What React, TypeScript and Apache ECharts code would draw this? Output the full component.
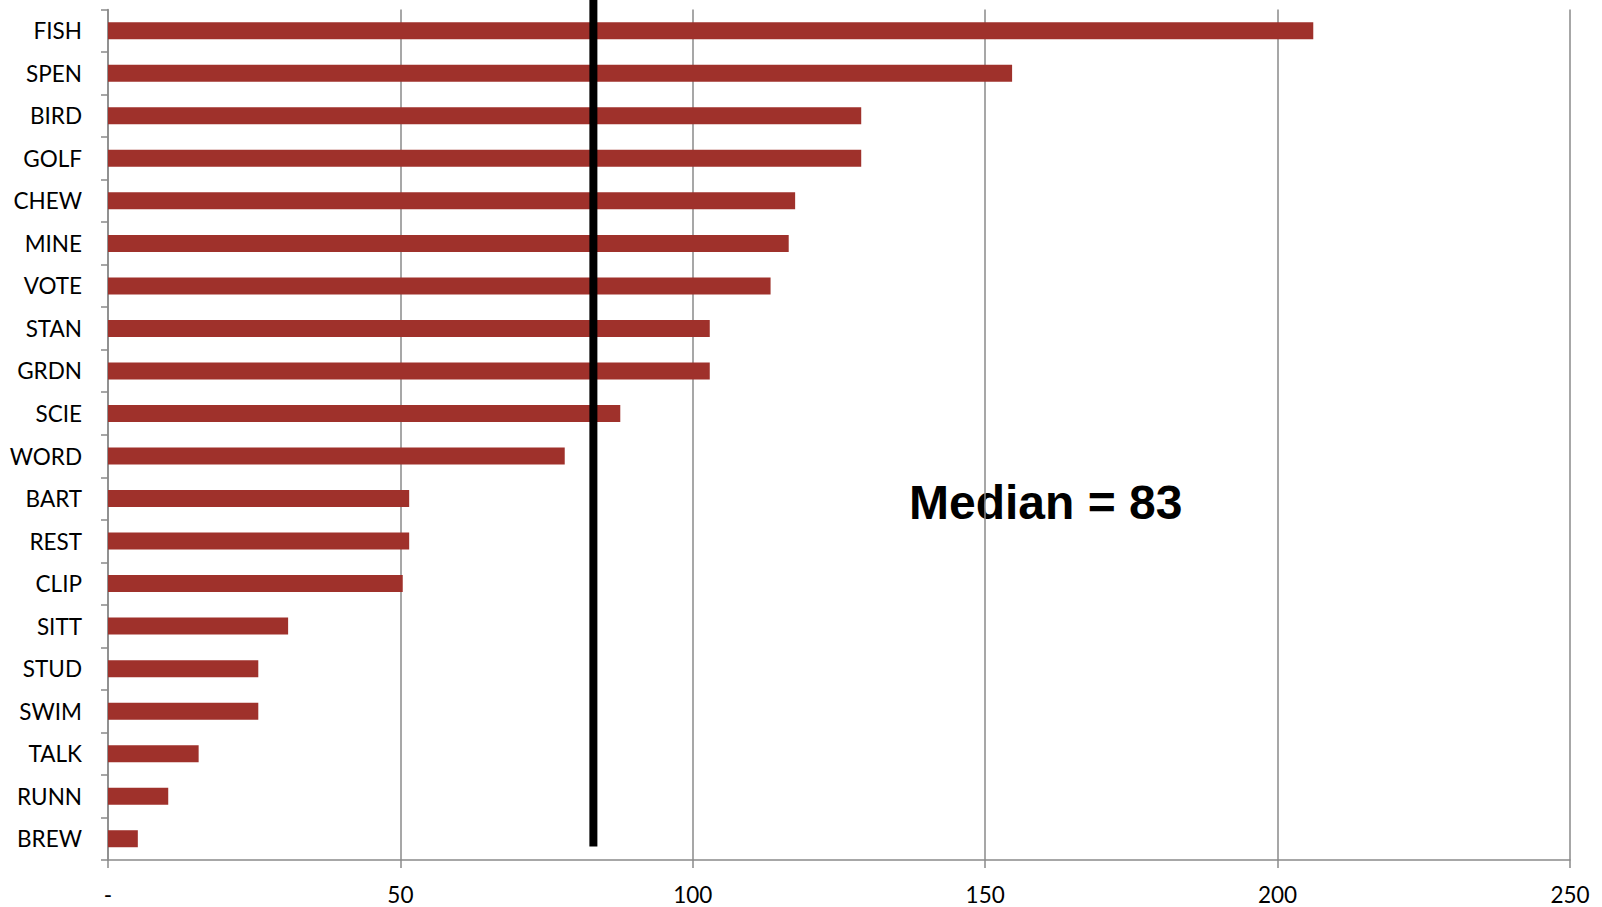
import React, { useEffect, useRef } from "react";
import * as echarts from "echarts";

// Activity codes, largest first
const categories = [
  "FISH", "SPEN", "BIRD", "GOLF", "CHEW", "MINE", "VOTE", "STAN", "GRDN", "SCIE",
  "WORD", "BART", "REST", "CLIP", "SITT", "STUD", "SWIM", "TALK", "RUNN", "BREW",
];

const values = [
  206.1, 154.6, 128.8, 128.8, 117.5, 116.4, 113.3, 102.9, 102.9, 87.6,
  78.1, 51.5, 51.5, 50.4, 30.8, 25.7, 25.7, 15.5, 10.3, 5.1,
];

const MEDIAN = 83;
const medianLabel = "Median = 83";

const xTicks = { min: 0, max: 250, interval: 50 };

export default function App() {
  const ref = useRef<HTMLDivElement>(null);

  useEffect(() => {
    if (!ref.current) return;
    const chart = echarts.init(ref.current, null, { renderer: "svg" });
    const gray = "#8a8a8a";
    const labelFont = "Lato, 'Open Sans', sans-serif";

    chart.setOption({
      animation: false,
      backgroundColor: "#ffffff",
      grid: { left: 108, top: 9.5, right: 32, bottom: 47, containLabel: false },
      xAxis: {
        type: "value",
        min: xTicks.min,
        max: xTicks.max,
        interval: xTicks.interval,
        axisLine: { show: true, lineStyle: { color: gray, width: 1.5 } },
        axisTick: { show: true, length: 8, lineStyle: { color: gray, width: 1.5 } },
        splitLine: { show: true, lineStyle: { color: gray, width: 1.5 } },
        axisLabel: {
          color: "#000",
          fontSize: 22.5,
          fontFamily: labelFont,
          margin: 23,
          formatter: (v: number) => (v === 0 ? "-" : String(v)),
        },
      },
      yAxis: {
        type: "category",
        data: categories,
        inverse: true,
        axisLine: { show: true, lineStyle: { color: gray, width: 1.5 } },
        axisTick: { show: true, length: 7, lineStyle: { color: gray, width: 1.5 } },
        splitLine: { show: false },
        axisLabel: {
          color: "#000",
          fontSize: 22.5,
          fontFamily: labelFont,
          margin: 26,
          padding: [0, 0, 2, 0],
        },
      },
      series: [
        {
          type: "bar",
          data: values,
          barCategoryGap: "60%",
          itemStyle: { color: "#9f312b" },
          z: 2,
        },
        {
          // thick vertical median marker, running from the top edge down past the last bar
          type: "custom",
          clip: false,
          silent: true,
          z: 5,
          encode: { x: 0, y: 1 },
          data: [[MEDIAN, categories.length - 1]],
          renderItem: (_params: any, api: any) => {
            const p = api.coord([api.value(0), api.value(1)]);
            const band = api.size([0, 1])[1];
            const bottom = p[1] + band * 0.18;
            return {
              type: "rect",
              shape: { x: p[0] - 4, y: 0, width: 8, height: bottom },
              style: { fill: "#000000" },
            };
          },
        },
      ],
      graphic: [
        {
          type: "text",
          left: 909,
          top: 478,
          style: {
            text: medianLabel,
            fontSize: 48,
            fontWeight: "bold",
            fontFamily: "'Liberation Sans', Arial, sans-serif",
            fill: "#000",
          },
        },
      ],
    });

    return () => chart.dispose();
  }, []);

  return (
    <div
      ref={ref}
      style={{ position: "fixed", left: 0, top: 0, width: 1602, height: 907 }}
    />
  );
}
